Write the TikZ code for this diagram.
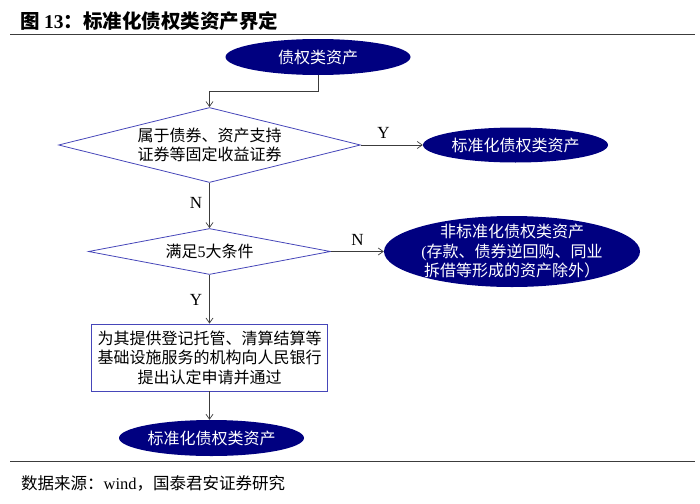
\documentclass[tikz,border=0pt]{standalone}
\usepackage{fontspec}
\setmainfont{Liberation Serif}
\newfontfamily\cjk{Noto Sans CJK SC}
\usetikzlibrary{shapes.geometric,arrows.meta}
\definecolor{navy}{RGB}{0,0,128}
\definecolor{bblue}{RGB}{70,70,185}
\definecolor{lgray}{RGB}{60,60,60}
\begin{document}
\begin{tikzpicture}[x=1pt,y=-1pt,
  ell/.style={ellipse,fill=navy,draw=none,inner sep=0pt},
  etxt/.style={text=white,font=\cjk\fontsize{16}{19.5}\selectfont,align=center,inner sep=0pt},
  dia/.style={diamond,draw=bblue,line width=0.8pt,inner sep=0pt,aspect=4},
  txt/.style={font=\cjk\fontsize{16}{19.5}\selectfont,align=center,inner sep=0pt},
  boxn/.style={rectangle,draw=bblue,line width=0.8pt,inner sep=0pt},
  conn/.style={draw=lgray,line width=0.7pt,-{Straight Barb[length=5pt,width=7pt]}},
  yn/.style={font=\fontsize{17}{17}\selectfont,inner sep=0pt},
  rule/.style={draw=lgray,line width=1pt}]
\useasboundingbox (0,0) rectangle (700,503);
% title
\node[anchor=west,inner sep=0pt,font=\cjk\bfseries\fontsize{19.5}{19.5}\selectfont] (title) at (20,21) {图 {\rmfamily\bfseries 13}：标准化债权类资产界定};
\coordinate (r1a) at (10,34.5); \coordinate (r1b) at (695,34.5);
\draw[rule] (r1a) -- (r1b);
% nodes
\node[ell,minimum width=185pt,minimum height=36pt] (e0) at (318,57) {};
\node[etxt] (e0t) at (e0) {债权类资产};
\node[dia,minimum width=302pt,minimum height=75pt] (d1) at (209.5,145) {};
\node[txt] (d1t) at (d1) {属于债券、资产支持\\证券等固定收益证券};
\node[ell,minimum width=185pt,minimum height=35pt] (e1) at (515.5,145) {};
\node[etxt] (e1t) at (e1) {标准化债权类资产};
\node[dia,minimum width=242pt,minimum height=46pt] (d2) at (209.5,251.5) {};
\node[txt] (d2t) at (d2) {满足{\rmfamily 5}大条件};
\node[ell,minimum width=256pt,minimum height=71pt] (e2) at (512,251.5) {};
\node[etxt] (e2t) at (e2) {非标准化债权类资产\\{\rmfamily(}存款、债券逆回购、同业\\拆借等形成的资产除外）};
\node[boxn,minimum width=236pt,minimum height=67pt] (r) at (209.5,357.5) {};
\node[txt] (rt) at (r) {为其提供登记托管、清算结算等\\基础设施服务的机构向人民银行\\提出认定申请并通过};
\node[ell,minimum width=185pt,minimum height=36pt] (e3) at (211.5,438) {};
\node[etxt] (e3t) at (e3) {标准化债权类资产};
% connectors
\draw[conn] (e0.south) -- ++(0,16) -| (d1.north);
\draw[conn] (d1.east) -- (e1.west);
\draw[conn] (d1.south) -- (d2.north);
\draw[conn] (d2.east) -- (e2.west);
\draw[conn] (d2.south) -- (r.north);
\draw[conn] (r.south) -- (r.south |- e3.north);
% labels
\node[yn] (y1) at (383.5,133) {Y};
\node[yn] (n1) at (196,203) {N};
\node[yn] (n2) at (357.5,239.5) {N};
\node[yn] (y2) at (196,299.5) {Y};
% footer
\coordinate (r2a) at (10,461); \coordinate (r2b) at (695,461);
\draw[rule] (r2a) -- (r2b);
\node[anchor=west,inner sep=0pt,font=\cjk\fontsize{16.5}{16.5}\selectfont] (foot) at (21,483.5) {数据来源：{\rmfamily wind}，国泰君安证券研究};
\end{tikzpicture}
\end{document}
